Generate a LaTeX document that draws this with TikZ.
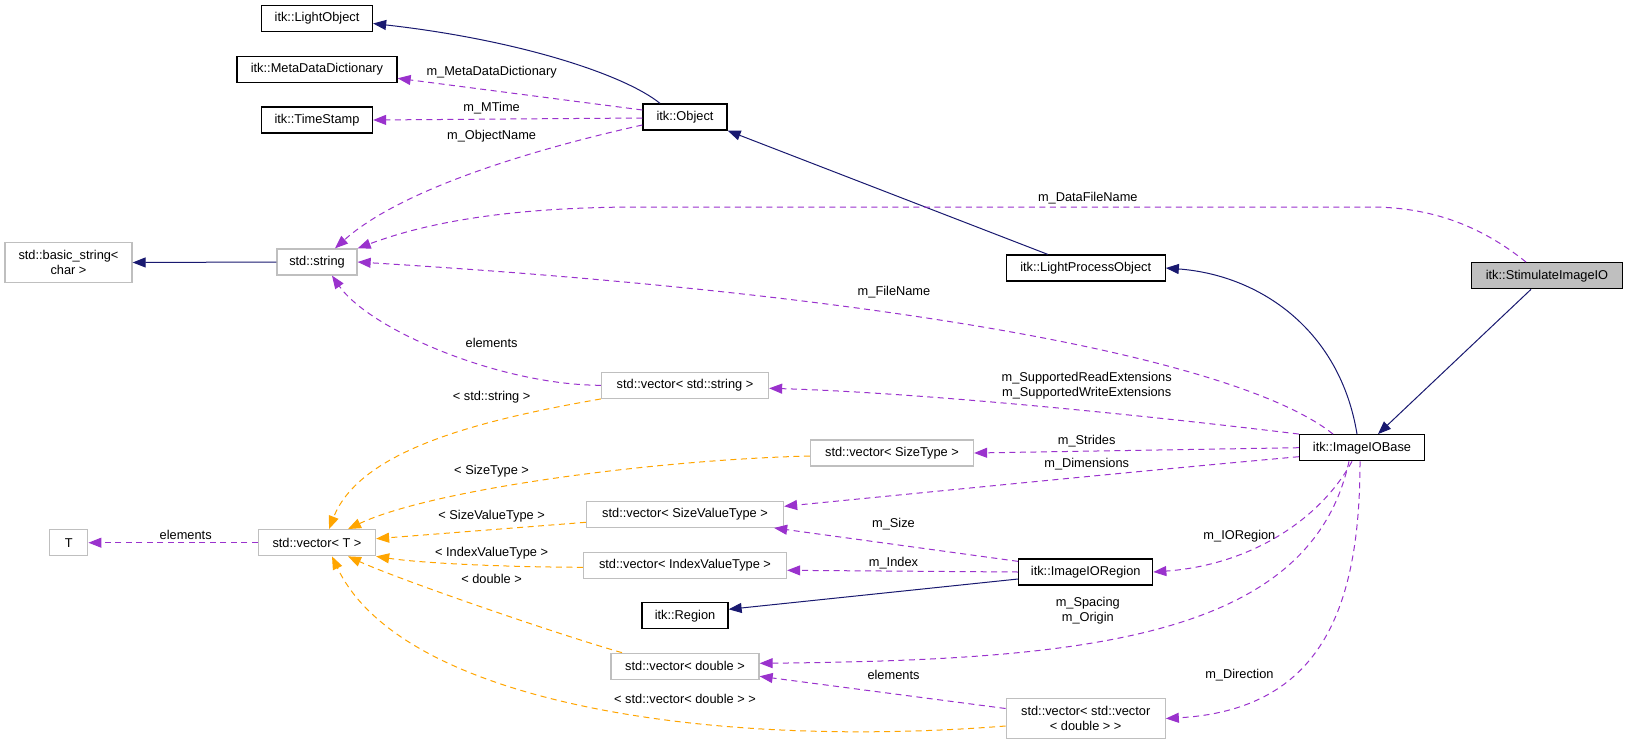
\documentclass[tikz,border=0pt]{standalone}
\usepackage{fontspec}
\setmainfont{Liberation Sans}
\usetikzlibrary{arrows.meta}
\definecolor{inhcol}{HTML}{191970}
\definecolor{usecol}{HTML}{9A32CD}
\definecolor{tplcol}{HTML}{FFA500}
\definecolor{grycol}{HTML}{BFBFBF}
\begin{document}
\begin{tikzpicture}[x=1pt,y=-1pt,
  box/.style={draw=black,line width=1.3pt,fill=white,minimum height=26pt,inner sep=0pt,align=center,font=\fontsize{12.8}{14.5}\selectfont},
  ubox/.style={box,draw=grycol},
  lbl/.style={inner sep=0pt,align=center,font=\fontsize{12.8}{14.5}\selectfont},
  tipstyle/.style={-{Triangle[length=13pt,width=10pt]}},
  inhedge/.style={draw=inhcol,line width=1pt,tipstyle},
  useedge/.style={draw=usecol,line width=1pt,dash pattern=on 6pt off 4.5pt,tipstyle},
  tpledge/.style={draw=tplcol,line width=1pt,dash pattern=on 6pt off 4.5pt,tipstyle}
]
\useasboundingbox (0,0) rectangle (1628,745);
\fill[white] (0,0) rectangle (1628,745);

% nodes
\node[box,minimum width=111pt] (lightobj) at (317,18.5) {itk::LightObject};
\node[box,minimum width=160pt] (mdd) at (317,69.3) {itk::MetaDataDictionary};
\node[box,minimum width=111pt] (ts) at (317,120) {itk::TimeStamp};
\node[box,minimum width=84pt] (object) at (685,117) {itk::Object};
\node[ubox,minimum width=127pt,minimum height=40pt] (basicstr) at (68.5,262.5) {std::basic\_string<\\char >};
\node[ubox,minimum width=80pt] (string) at (317,262) {std::string};
\node[box,minimum width=159pt] (lpo) at (1085.7,268) {itk::LightProcessObject};
\node[box,fill=grycol,minimum width=151pt] (stim) at (1547,275.7) {itk::StimulateImageIO};
\node[ubox,minimum width=167pt] (vecstr) at (685,385.3) {std::vector< std::string >};
\node[ubox,minimum width=38pt] (T) at (68.8,542.7) {T};
\node[ubox,minimum width=117pt] (vecT) at (317,542.7) {std::vector< T >};
\node[ubox,minimum width=197pt] (vecsvt) at (685,514.3) {std::vector< SizeValueType >};
\node[ubox,minimum width=203pt] (vecivt) at (685,565.3) {std::vector< IndexValueType >};
\node[box,minimum width=86pt] (region) at (685,615.8) {itk::Region};
\node[ubox,minimum width=148pt] (vecdbl) at (685,666.3) {std::vector< double >};
\node[ubox,minimum width=163pt] (vecst) at (892,453) {std::vector< SizeType >};
\node[box,minimum width=125pt] (iobase) at (1362,447.7) {itk::ImageIOBase};
\node[box,minimum width=134pt] (ioregion) at (1085.7,572) {itk::ImageIORegion};
\node[ubox,minimum width=159pt,minimum height=40pt] (vecvec) at (1085.7,718.5) {std::vector< std::vector\\< double > >};

% inheritance edges
\draw[inhedge] ([xshift=-25pt]object.north) .. controls (625,75) and (520,40) .. ([yshift=-5pt]lightobj.east);
\draw[inhedge] ([xshift=-5pt]iobase.north) .. controls (1340,330) and (1260,275) .. (lpo.east);
\draw[inhedge] ([xshift=-38pt]lpo.north) -- (object.south east);
\draw[inhedge] ([xshift=-16pt]stim.south) -- ([xshift=16pt]iobase.north);
\draw[inhedge] ([yshift=-7pt]ioregion.west) -- ([yshift=6.5pt]region.east);
\draw[inhedge] (string.west) -- (basicstr.east);

% usage edges
\draw[useedge] ([yshift=7pt]object.west) -- ([yshift=-9pt]mdd.east)
  node[lbl] at (491.6,71.7) {m\_MetaDataDictionary};
\draw[useedge] ([yshift=-1pt]object.west) -- (ts.east)
  node[lbl] at (491.6,108.3) {m\_MTime};
\draw[useedge] ([yshift=-8pt]object.west) .. controls (530,150) and (400,190) .. ([xshift=18pt]string.north)
  node[lbl] at (491.6,135.7) {m\_ObjectName};
\draw[useedge] ([xshift=-21pt]stim.north) .. controls (1480,225) and (1430,207) .. (1370,207) -- (640,207) .. controls (500,207) and (420,225) .. (string.north east)
  node[lbl] at (1087.8,198.3) {m\_DataFileName};
\draw[useedge] ([xshift=-29pt]iobase.north) .. controls (1240,360) and (900,295) .. (string.east)
  node[lbl] at (894,292.3) {m\_FileName};
\draw[useedge] (iobase.north west) .. controls (1100,410) and (900,392) .. ([yshift=-3pt]vecstr.east)
  node[lbl] at (1086.7,385.5) {m\_SupportedReadExtensions\\m\_SupportedWriteExtensions};
\draw[useedge] (vecstr.west) .. controls (500,385) and (370,330) .. ([xshift=15pt]string.south)
  node[lbl] at (491.6,343.3) {elements};
\draw[useedge] (iobase.west) -- (vecst.east)
  node[lbl] at (1086.7,440.7) {m\_Strides};
\draw[useedge] ([yshift=-9pt]iobase.west) .. controls (1150,470) and (950,490) .. ([yshift=8pt]vecsvt.east)
  node[lbl] at (1086.7,464) {m\_Dimensions};
\draw[useedge] ([yshift=-3pt]ioregion.north west) -- ([xshift=-10pt]vecsvt.south east)
  node[lbl] at (893.5,524) {m\_Size};
\draw[useedge] (ioregion.west) -- ([yshift=-5pt]vecivt.east)
  node[lbl] at (893.5,562.7) {m\_Index};
\draw[useedge] ([xshift=-10pt]iobase.south) .. controls (1320,520) and (1250,565) .. (ioregion.east)
  node[lbl] at (1239.4,535.7) {m\_IORegion};
\draw[useedge] ([xshift=-13pt]iobase.south) .. controls (1310,640) and (1080,660) .. ([yshift=3pt]vecdbl.east)
  node[lbl] at (1087.8,610.8) {m\_Spacing\\m\_Origin};
\draw[useedge] ([xshift=-2pt]iobase.south) .. controls (1360,610) and (1320,710) .. (vecvec.east)
  node[lbl] at (1239.4,674.7) {m\_Direction};
\draw[useedge] ([yshift=10pt]vecvec.west) -- ([yshift=-10pt]vecdbl.east)
  node[lbl] at (893.5,674.7) {elements};
\draw[useedge] (vecT.west) -- (T.east)
  node[lbl] at (185.7,534.7) {elements};

% template edges
\draw[tpledge] (vecstr.south west) .. controls (480,420) and (360,450) .. ([xshift=12pt]vecT.north)
  node[lbl] at (491.6,396.7) {< std::string >};
\draw[tpledge] ([yshift=-3pt]vecst.west) .. controls (650,460) and (430,490) .. ([xshift=31pt]vecT.north)
  node[lbl] at (491.6,470.7) {< SizeType >};
\draw[tpledge] ([yshift=-8pt]vecsvt.west) -- ([yshift=4pt]vecT.east)
  node[lbl] at (491.6,515.7) {< SizeValueType >};
\draw[tpledge] ([yshift=-2pt]vecivt.west) .. controls (500,567) and (420,563) .. (vecT.south east)
  node[lbl] at (491.6,552.7) {< IndexValueType >};
\draw[tpledge] ([xshift=-63pt]vecdbl.north) .. controls (560,635) and (400,580) .. ([xshift=31pt]vecT.south)
  node[lbl] at (491.6,579) {< double >};
\draw[tpledge] ([yshift=-7.5pt]vecvec.west) .. controls (700,750) and (400,700) .. ([xshift=15pt]vecT.south)
  node[lbl] at (685,699) {< std::vector< double > >};
\end{tikzpicture}
\end{document}
